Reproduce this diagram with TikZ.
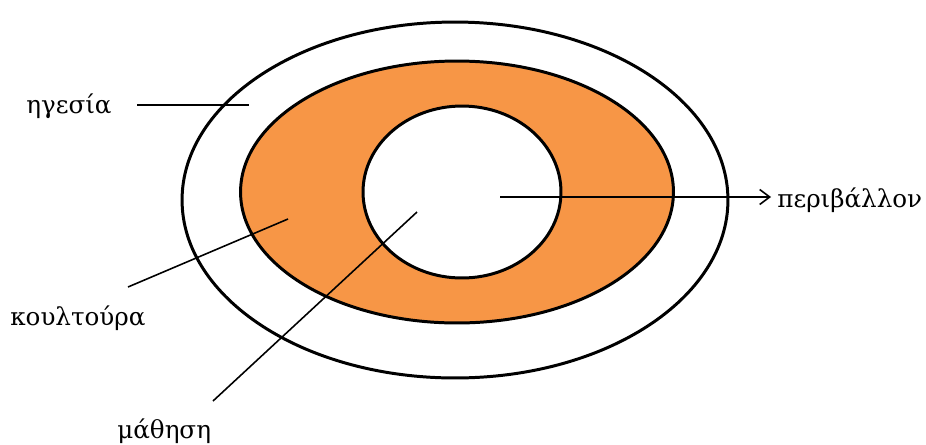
\documentclass[tikz,border=0pt]{standalone}
\usepackage{fontspec}
\setmainfont{DejaVu Serif}
\usepackage{tikz}
\usetikzlibrary{arrows.meta, shapes.geometric}

\definecolor{portokali}{RGB}{247,150,70}

\begin{document}
\begin{tikzpicture}[
      x=0.02cm, y=-0.02cm,
      font=\fontsize{14}{16}\selectfont,
      zoni/.style={ellipse, draw=black, line width=1.7pt, inner sep=0},
      etiketa/.style={anchor=base west, inner sep=0},
      grammi/.style={line width=0.9pt},
      velos/.style={grammi, -{Straight Barb[length=2mm, width=3mm]}}
    ]
    \useasboundingbox (0,0) rectangle (926,444);
    \node[zoni, minimum width=10.92cm, minimum height=7.12cm] (exo) at (455,200) {};
    \node[zoni, fill=portokali, minimum width=8.66cm, minimum height=5.24cm] (mesi) at (457,192) {};
    \node[zoni, fill=white, minimum width=3.96cm, minimum height=3.44cm] (kentro) at (462,192) {};

    \node[etiketa] (igesia) at (26,113) {ηγεσία};
    \node[etiketa] (koultoura) at (10,325) {κουλτούρα};
    \node[etiketa] (mathisi) at (117,438) {μάθηση};
    \node[etiketa] (perivallon) at (777,207) {περιβάλλον};

    \coordinate (igesiaA) at (137,105);
    \coordinate (igesiaB) at (249,105);
    \coordinate (koultouraA) at (128,287);
    \coordinate (koultouraB) at (288,219);
    \coordinate (mathisiA) at (213,401);
    \coordinate (mathisiB) at (417,212);
    \coordinate (perivallonA) at (500,197);
    \coordinate (perivallonB) at (771,197);

    \draw[grammi] (igesiaA) -- (igesiaB);
    \draw[grammi] (koultouraA) -- (koultouraB);
    \draw[grammi] (mathisiA) -- (mathisiB);
    \draw[velos] (perivallonA) -- (perivallonB);
  \end{tikzpicture}
\end{document}
